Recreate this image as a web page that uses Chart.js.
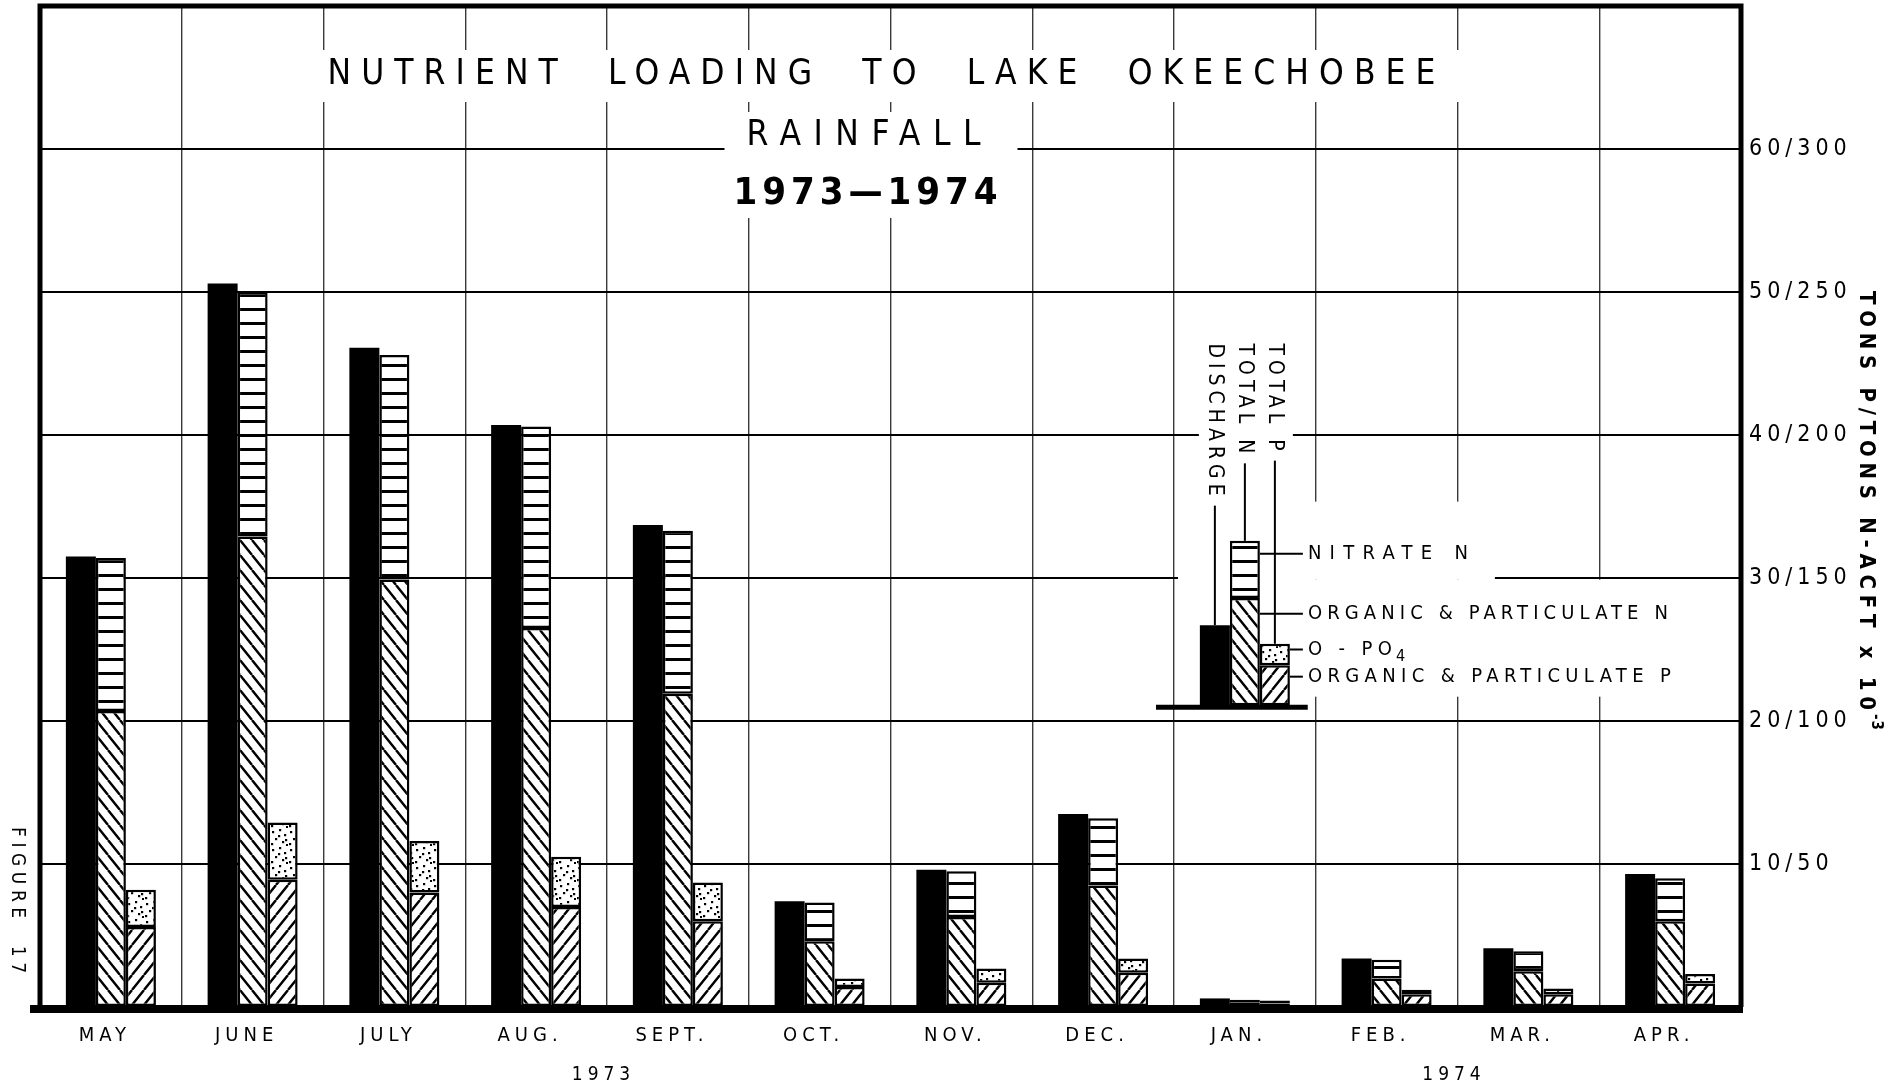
<!DOCTYPE html>
<html>
<head>
<meta charset="utf-8">
<script src="https://cdn.jsdelivr.net/npm/chart.js"></script>
<style>
html,body{margin:0;padding:0;background:#fff;}
canvas{display:block;}
</style>
</head>
<body>
<canvas id="c" width="1902" height="1091"></canvas>
<script>
// ---------------- DATA ----------------
const months = ['MAY','JUNE','JULY','AUG.','SEPT.','OCT.','NOV.','DEC.','JAN.','FEB.','MAR.','APR.'];
const yearLabels = ['1973','1974'];
const yearFirstIdx = [0, 8];
const yearLastIdx = [7, 11];

const discharge = [31.5, 50.6, 46.1, 40.7, 33.7, 7.4, 9.6, 13.5, 0.6, 3.4, 4.1, 9.3];
const orgN      = [20.7, 32.9, 29.9, 26.5, 21.9, 4.6, 6.3, 8.5, 0.3, 2.0, 2.5, 6.0];
const nitrateN  = [10.7, 17.1, 15.7, 14.1, 11.4, 2.7, 3.2, 4.7, 0.2, 1.3, 1.4, 3.0];
const orgP      = [5.6, 8.9, 8.0, 7.0, 6.0, 1.4, 1.7, 2.4, 0.25, 0.9, 0.9, 1.65];
const oPO4      = [2.6, 4.0, 3.6, 3.5, 2.7, 0.6, 1.0, 1.0, 0.2, 0.3, 0.4, 0.65];

const tickValues = [10, 20, 30, 40, 50, 60];
const tickLabels = ['10/50','20/100','30/150','40/200','50/250','60/300'];

// key (sample bar group drawn inside the JAN column)
const keyMonthIdx = 8;
const keyBase = 21.1;
const keyDischarge = 5.6;
const keyOrgN = 7.5;
const keyNitrateN = 4.0;
const keyOrgP = 2.8;
const keyOPO4 = 1.5;

// ---------------- STYLE HELPERS ----------------
const FONT = "'DejaVu Sans Condensed','Liberation Sans Narrow','DejaVu Sans',sans-serif";
const canvas = document.getElementById('c');
const ctx0 = canvas.getContext('2d');

function tile(w, h, draw) {
  const c = document.createElement('canvas');
  c.width = w; c.height = h;
  const g = c.getContext('2d');
  g.fillStyle = '#fff'; g.fillRect(0, 0, w, h);
  g.fillStyle = '#000'; g.strokeStyle = '#000';
  draw(g, w, h);
  return ctx0.createPattern(c, 'repeat');
}
const patHoriz = tile(8, 14, (g, w) => { g.fillRect(0, 0, w, 3); });
const patBack = tile(12, 15, (g, w, h) => {
  g.lineWidth = 2.4; g.beginPath();
  for (const k of [-1, 0, 1]) { g.moveTo(k * w, 0); g.lineTo(k * w + w, h); }
  g.stroke();
});
const patFwd = tile(12, 15, (g, w, h) => {
  g.lineWidth = 2.4; g.beginPath();
  for (const k of [-1, 0, 1]) { g.moveTo(k * w, h); g.lineTo(k * w + w, 0); }
  g.stroke();
});
const patDots = tile(18, 18, (g) => {
  const pts = [[2,3],[9,1],[14,6],[5,10],[12,13],[1,15],[16,16],[8,7],[15,11]];
  for (const [px, py] of pts) { g.fillRect(px, py, 2.2, 2.2); }
});

// ---------------- DATASETS ----------------
const floatFrom = (vals, baseArr) => vals.map((v, i) => { const b = baseArr ? baseArr[i] : 0; return [b, b + v]; });
const keyOnly = (lo, hi) => months.map((m, i) => i === keyMonthIdx ? [lo, hi] : null);

function bar(label, data, fill, stack, bw) {
  return { label, data, backgroundColor: fill, borderColor: '#000', borderWidth: bw,
           borderSkipped: false, stack, barPercentage: 1.0, categoryPercentage: 0.635 };
}

const datasets = [
  bar('Discharge', floatFrom(discharge), '#000', 'd', 0),
  bar('Organic & Particulate N', floatFrom(orgN), patBack, 'n', 2.5),
  bar('Nitrate N', floatFrom(nitrateN, orgN), patHoriz, 'n', 2.5),
  bar('Organic & Particulate P', floatFrom(orgP), patFwd, 'p', 2.5),
  bar('O-PO4', floatFrom(oPO4, orgP), patDots, 'p', 2.5),
  bar('key discharge', keyOnly(keyBase, keyBase + keyDischarge), '#000', 'd', 0),
  bar('key org N', keyOnly(keyBase, keyBase + keyOrgN), patBack, 'n', 2.5),
  bar('key nitrate', keyOnly(keyBase + keyOrgN, keyBase + keyOrgN + keyNitrateN), patHoriz, 'n', 2.5),
  bar('key org P', keyOnly(keyBase, keyBase + keyOrgP), patFwd, 'p', 2.5),
  bar('key O-PO4', keyOnly(keyBase + keyOrgP, keyBase + keyOrgP + keyOPO4), patDots, 'p', 2.5)
];

// ---------------- TEXT HELPERS ----------------
function spaced(ctx, text, x, y, size, o = {}) {
  ctx.save();
  ctx.font = (o.bold ? 'bold ' : '') + size + 'px ' + FONT;
  ctx.letterSpacing = '0px';
  const w0 = ctx.measureText(text).width;
  const n = [...text].length;
  const sp = o.width !== undefined ? (o.width - w0) / Math.max(1, n - 1) : (o.spacing || 0);
  const total = w0 + sp * (n - 1);
  if (!o.measureOnly) {
    ctx.letterSpacing = sp + 'px';
    ctx.translate(x, y);
    if (o.rotate) ctx.rotate(o.rotate);
    ctx.fillStyle = '#000';
    ctx.textBaseline = 'middle';
    ctx.textAlign = 'left';
    ctx.fillText(text, o.align === 'center' ? -total / 2 : 0, 0);
  }
  ctx.restore();
  return total;
}

function keyLayout(chart) {
  const xs = chart.scales.x, ys = chart.scales.y;
  const eD = chart.getDatasetMeta(5).data[keyMonthIdx];
  const eN = chart.getDatasetMeta(7).data[keyMonthIdx];
  const eP = chart.getDatasetMeta(9).data[keyMonthIdx];
  const jx = xs.getPixelForValue(keyMonthIdx);
  const cw = xs.width / months.length;
  const topY = ys.getPixelForValue(46.4);
  const vert = [
    { t: 'DISCHARGE', el: eD },
    { t: 'TOTAL N', el: eN },
    { t: 'TOTAL P', el: eP }
  ].map(r => ({ ...r, len: spaced(chart.ctx, r.t, 0, 0, 21, { spacing: 5, measureOnly: true }) }));
  const lx = jx + 63;
  const rows = [
    { t: 'NITRATE N', w: 160, v: 31.7, from: eN.x + eN.width / 2 },
    { t: 'ORGANIC & PARTICULATE N', w: 360, v: 27.5, from: eN.x + eN.width / 2 },
    { t: 'O - PO', w: 84, sub: '4', v: 25.0, from: eP.x + eP.width / 2 },
    { t: 'ORGANIC & PARTICULATE P', w: 363, v: 23.1, from: eP.x + eP.width / 2 }
  ].map(r => ({ ...r, py: ys.getPixelForValue(r.v) }));
  return { xs, ys, jx, cw, topY, vert, lx, rows, eD, eN, eP };
}

// ---------------- PLUGIN ----------------
const decor = {
  id: 'decor',
  beforeDraw(chart) {
    const { ctx, width, height } = chart;
    ctx.save(); ctx.fillStyle = '#fff'; ctx.fillRect(0, 0, width, height); ctx.restore();
    ctx.letterSpacing = '5px';
  },
  beforeDatasetsDraw(chart) {
    const { ctx, chartArea: a } = chart;
    const K = keyLayout(chart);
    const mid = (a.left + a.right) / 2;
    ctx.save();
    ctx.fillStyle = '#fff';
    // title masks
    ctx.fillRect(mid - 575, a.top + 44, 1150, 52);
    ctx.fillRect(mid - 166, a.top + 106, 293, 106);
    // key masks
    const vl = Math.min(...K.vert.map(v => v.el.x - 16));
    const vr = Math.max(...K.vert.map(v => v.el.x + 18));
    const vb = Math.max(...K.vert.map(v => K.topY + v.len + 6));
    ctx.fillRect(vl, K.topY - 8, vr - vl, vb - K.topY + 8);
    const nl = K.jx - K.cw / 2 + 4;
    const split = K.rows[0].py + 26;
    ctx.fillRect(nl, vb, K.lx + 187 - nl, split - vb);
    ctx.fillRect(K.lx - 8, split, 385, K.rows[3].py + 20 - split);
    ctx.restore();
  },
  afterDatasetsDraw(chart) {
    const { ctx, chartArea: a } = chart;
    const K = keyLayout(chart);
    const mid = (a.left + a.right) / 2;
    ctx.save();
    ctx.strokeStyle = '#000';
    // frame
    ctx.lineWidth = 5;
    ctx.beginPath();
    ctx.moveTo(a.left, a.bottom); ctx.lineTo(a.left, a.top); ctx.lineTo(a.right, a.top); ctx.lineTo(a.right, a.bottom);
    ctx.stroke();
    ctx.lineWidth = 8;
    ctx.beginPath(); ctx.moveTo(a.left - 10, a.bottom + 2); ctx.lineTo(a.right + 2, a.bottom + 2); ctx.stroke();

    // title
    spaced(ctx, 'NUTRIENT  LOADING  TO  LAKE  OKEECHOBEE', mid - 9, a.top + 69, 35, { width: 1108, align: 'center' });
    spaced(ctx, 'RAINFALL', mid - 27, a.top + 130, 35, { width: 234, align: 'center' });
    spaced(ctx, '1973\u20141974', mid - 25, a.top + 188, 38, { width: 264, align: 'center', bold: true });

    // key base line
    const by = K.ys.getPixelForValue(keyBase);
    ctx.lineWidth = 5;
    ctx.beginPath(); ctx.moveTo(K.jx - K.cw / 2 - 18, by + 2); ctx.lineTo(K.jx + K.cw / 2 - 8, by + 2); ctx.stroke();

    // vertical key labels + leaders
    ctx.lineWidth = 2;
    for (const v of K.vert) {
      spaced(ctx, v.t, v.el.x, K.topY, 21, { spacing: 5, rotate: Math.PI / 2 });
      ctx.beginPath(); ctx.moveTo(v.el.x, K.topY + v.len + 10); ctx.lineTo(v.el.x, v.el.y); ctx.stroke();
    }
    // horizontal key labels + leaders
    for (const r of K.rows) {
      ctx.beginPath(); ctx.moveTo(r.from, r.py); ctx.lineTo(K.lx - 5, r.py); ctx.stroke();
      const w = spaced(ctx, r.t, K.lx, r.py, 20, { width: r.w });
      if (r.sub) spaced(ctx, r.sub, K.lx + w + 4, r.py + 7, 16, { spacing: 0 });
    }

    // year labels
    for (let i = 0; i < yearLabels.length; i++) {
      const x1 = K.xs.getPixelForValue(yearFirstIdx[i]);
      const x2 = K.xs.getPixelForValue(yearLastIdx[i]);
      spaced(ctx, yearLabels[i], (x1 + x2) / 2 - 6, a.bottom + 68, 19, { spacing: 5, align: 'center' });
    }

    // right axis title (rotated) with superscript
    const ax = a.right + 125;
    const tl = spaced(ctx, 'TONS P/TONS N-ACFT x 10', ax, a.top + 285, 22, { width: 419, bold: true, rotate: Math.PI / 2 });
    spaced(ctx, '-3', ax + 10, a.top + 285 + tl + 4, 15, { spacing: 1, bold: true, rotate: Math.PI / 2 });

    // figure number
    spaced(ctx, 'FIGURE  17', 17, a.bottom - 180, 19, { width: 146, rotate: Math.PI / 2 });
    ctx.restore();
  }
};

// ---------------- CHART ----------------
new Chart(canvas, {
  type: 'bar',
  data: { labels: months, datasets },
  options: {
    responsive: false,
    animation: false,
    devicePixelRatio: 1,
    events: [],
    layout: { padding: { left: 40, top: 6, right: 0, bottom: 0 } },
    plugins: { legend: { display: false }, tooltip: { enabled: false } },
    scales: {
      x: {
        type: 'category',
        stacked: true,
        offset: true,
        grid: { offset: true, color: '#3a3a3a', lineWidth: 1.4, drawTicks: false },
        border: { display: false },
        ticks: { color: '#000', font: { family: FONT, size: 20 }, padding: 17, labelOffset: -6,
                 maxRotation: 0, autoSkip: false },
        afterFit: s => { s.height = 84; s.paddingLeft = 0; s.paddingRight = 0; }
      },
      y: {
        type: 'linear',
        position: 'right',
        stacked: false,
        min: 0, max: 70,
        grid: { color: '#000', lineWidth: 2, drawTicks: false },
        border: { display: false },
        ticks: { stepSize: 10, padding: 8, color: '#000', font: { family: FONT, size: 23 },
                 callback: v => { const i = tickValues.indexOf(v); return i >= 0 ? tickLabels[i] : ''; } },
        afterFit: s => { s.width = 161; s.paddingTop = 0; s.paddingBottom = 0; }
      }
    }
  },
  plugins: [decor]
});
</script>
</body>
</html>
